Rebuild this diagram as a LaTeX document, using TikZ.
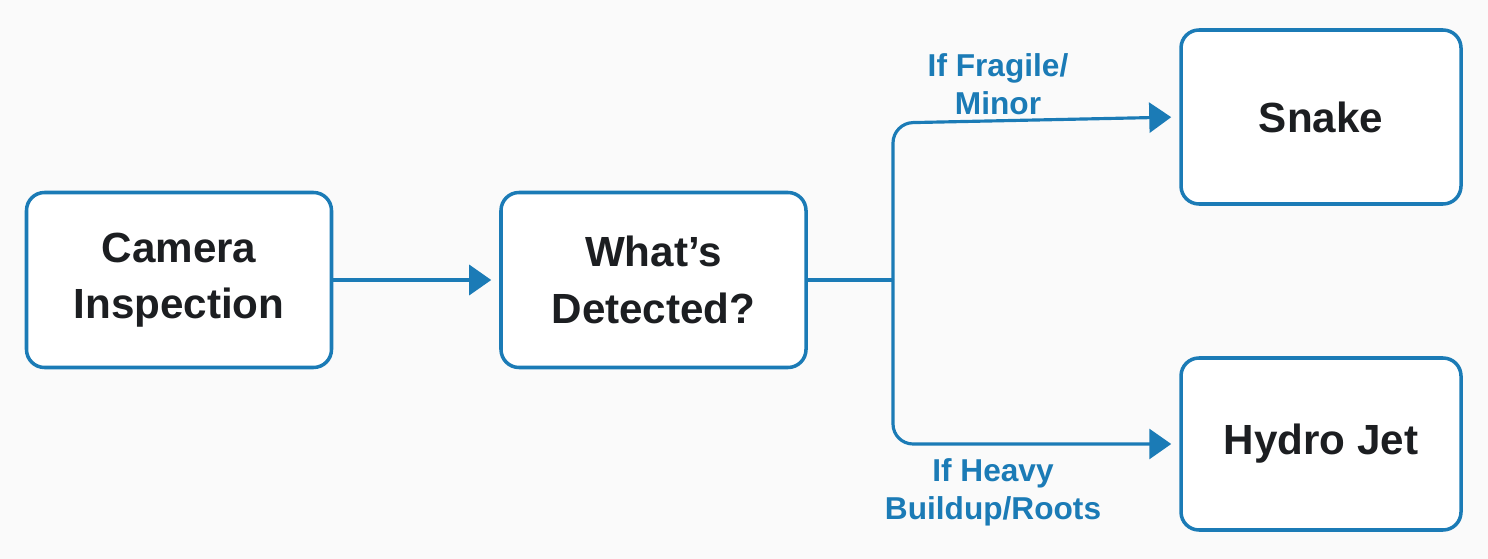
\documentclass[tikz,border=0pt]{standalone}
\usepackage{fontspec}
\setmainfont{Liberation Sans}
\usetikzlibrary{arrows.meta}

\definecolor{pipeblue}{HTML}{1B7BB6}
\definecolor{inktext}{HTML}{1C1E21}

\tikzset{
  stepbox/.style={draw=pipeblue, line width=2pt, rounded corners=0.36cm,
    fill=white, align=center, text=inktext,
    font=\fontsize{24}{32}\selectfont\bfseries},
  flow/.style={draw=pipeblue, line width=1.8pt},
  flowarrow/.style={flow, -{Triangle[length=0.44cm,width=0.6cm]}, shorten >=0.16cm},
  branchlabel/.style={text=pipeblue, align=center,
    font=\fontsize{18}{21.6}\selectfont\bfseries}
}

\begin{document}
\begin{tikzpicture}

% background and page size
\fill[white!98!black] (0,0) rectangle (29.76,-11.18);
\useasboundingbox (0,0) rectangle (29.76,-11.18);

% boxes
\node[stepbox, minimum width=6.1cm, minimum height=3.5cm] (camera) at (3.58,-5.6) {Camera\\Inspection};
\node[stepbox, minimum width=6.1cm, minimum height=3.5cm] (detect) at (13.07,-5.6) {What’s\\Detected?};
\node[stepbox, minimum width=5.6cm, minimum height=3.48cm] (snake) at (26.42,-2.34) {Snake};
\node[stepbox, minimum width=5.6cm, minimum height=3.44cm] (hydro) at (26.42,-8.88) {Hydro Jet};

% split point
\coordinate (split) at (17.86,-5.6);
\coordinate (bend) at (17.86,-2.46);

% connectors
\draw[flowarrow] (camera.east) -- (detect.west);
\draw[flow] (detect.east) -- (split);
\draw[flowarrow, rounded corners=0.4cm] (split) -- (bend) -- (snake.west);
\draw[flowarrow, rounded corners=0.4cm] (split) |- (hydro.west);

% labels
\node[branchlabel] (fragile) at (19.96,-1.68) {If Fragile/\\Minor};
\node[branchlabel] (heavy) at (19.86,-9.84) {If Heavy\\Buildup/Roots};

\end{tikzpicture}
\end{document}
